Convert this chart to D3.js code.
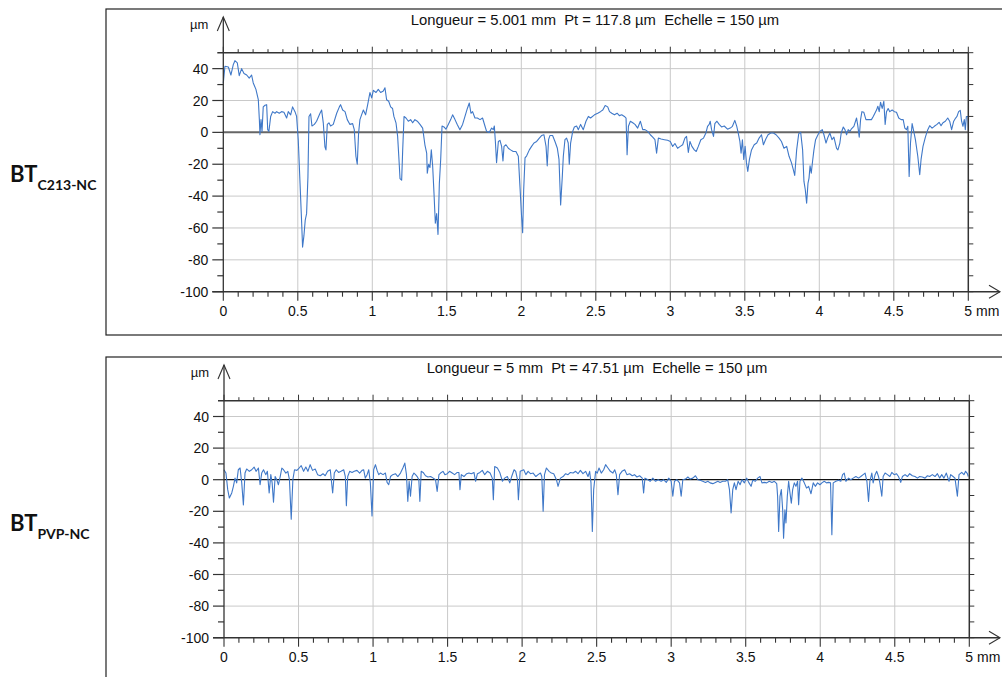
<!DOCTYPE html>
<html>
<head>
<meta charset="utf-8">
<script src="https://cdn.jsdelivr.net/npm/d3@7"></script>
<style>
  html, body { margin: 0; padding: 0; background: #fff; }
  svg { display: block; }
</style>
</head>
<body>
<svg id="chart" width="1002" height="677"></svg>
<script>
// ---------------- DATA ----------------
const xTicks = [0, 0.5, 1, 1.5, 2, 2.5, 3, 3.5, 4, 4.5, 5];
const xTickLabels = ["0", "0.5", "1", "1.5", "2", "2.5", "3", "3.5", "4", "4.5", "5 mm"];
const yTicks = [40, 20, 0, -20, -40, -60, -80, -100];
const yTickLabels = ["40", "20", "0", "-20", "-40", "-60", "-80", "-100"];

const titleTop = "Longueur = 5.001 mm  Pt = 117.8 µm  Echelle = 150 µm";
const titleBottom = "Longueur = 5 mm  Pt = 47.51 µm  Echelle = 150 µm";

// BT C213-NC profile (mm, µm)
const c213X = [0.000,0.011,0.034,0.051,0.067,0.078,0.094,0.107,0.123,0.139,0.157,0.174,0.190,0.201,0.219,0.235,0.242,0.246,0.253,0.260,0.268,0.280,0.291,0.298,0.306,0.318,0.331,0.347,0.358,0.376,0.391,0.407,0.425,0.436,0.452,0.465,0.481,0.492,0.503,0.515,0.526,0.532,0.541,0.550,0.559,0.568,0.575,0.586,0.595,0.611,0.626,0.649,0.660,0.671,0.682,0.689,0.698,0.709,0.720,0.738,0.761,0.779,0.787,0.801,0.817,0.832,0.850,0.868,0.879,0.890,0.899,0.908,0.917,0.928,0.940,0.955,0.969,0.984,0.996,1.007,1.025,1.040,1.056,1.074,1.085,1.096,1.110,1.123,1.136,1.145,1.159,1.170,1.179,1.186,1.197,1.204,1.213,1.226,1.242,1.257,1.271,1.286,1.302,1.320,1.338,1.353,1.365,1.369,1.378,1.387,1.396,1.405,1.414,1.423,1.432,1.441,1.450,1.459,1.468,1.481,1.494,1.510,1.526,1.539,1.555,1.570,1.588,1.606,1.622,1.638,1.651,1.662,1.673,1.689,1.705,1.723,1.740,1.756,1.767,1.785,1.801,1.812,1.819,1.826,1.834,1.846,1.857,1.868,1.877,1.884,1.897,1.913,1.928,1.946,1.964,1.980,1.991,2.002,2.009,2.016,2.025,2.036,2.054,2.069,2.085,2.103,2.121,2.136,2.152,2.166,2.174,2.183,2.192,2.210,2.226,2.242,2.253,2.264,2.275,2.282,2.293,2.304,2.315,2.322,2.331,2.345,2.356,2.371,2.383,2.398,2.416,2.434,2.450,2.465,2.491,2.513,2.531,2.547,2.563,2.580,2.592,2.607,2.625,2.643,2.658,2.674,2.692,2.703,2.710,2.719,2.732,2.748,2.763,2.781,2.799,2.815,2.830,2.848,2.866,2.882,2.897,2.908,2.920,2.938,2.960,2.982,3.000,3.016,3.031,3.049,3.067,3.083,3.098,3.109,3.121,3.132,3.145,3.161,3.174,3.188,3.205,3.223,3.239,3.250,3.261,3.268,3.277,3.290,3.299,3.313,3.328,3.344,3.362,3.384,3.402,3.417,3.433,3.446,3.455,3.467,3.475,3.484,3.493,3.502,3.511,3.520,3.531,3.545,3.563,3.580,3.596,3.612,3.625,3.641,3.656,3.674,3.692,3.710,3.730,3.746,3.763,3.781,3.797,3.813,3.826,3.835,3.848,3.862,3.875,3.888,3.897,3.906,3.915,3.924,3.931,3.938,3.946,3.955,3.964,3.975,3.991,4.004,4.020,4.031,4.045,4.058,4.071,4.085,4.098,4.116,4.125,4.138,4.147,4.161,4.172,4.183,4.194,4.205,4.214,4.232,4.250,4.259,4.268,4.277,4.286,4.299,4.313,4.333,4.350,4.362,4.373,4.384,4.393,4.402,4.411,4.422,4.433,4.442,4.451,4.462,4.473,4.489,4.504,4.518,4.533,4.549,4.563,4.574,4.585,4.594,4.603,4.612,4.623,4.634,4.645,4.661,4.674,4.683,4.696,4.712,4.728,4.741,4.757,4.772,4.790,4.804,4.817,4.830,4.846,4.862,4.875,4.888,4.902,4.915,4.924,4.935,4.946,4.955,4.964,4.973,4.980,4.987,4.998,5.000];
const c213Y = [31,41.5,41,36,42.5,45,43.6,35.6,40,37,36,34,36,31,27,20.5,8,-1.5,8,0.6,16,17,17.4,1.7,0.6,10,13,12,13,12,13,12.6,9,13,11,16,13,10,-4.6,-32,-57,-72,-65,-55,-51,-28,10,11.7,4,5,7,12,14,6,-9,-11,5,6,4,5,12,16,17.4,14,13,8,5,5.5,1.7,-15,-20,-0.4,8,11,14,11,17.4,25,21.6,26.4,25,27,25,26,28,20.5,19.5,16,15,10,6,-2.5,-17,-29,-30,-11,10,9,7,8,6,8,7,5,2.7,-7.8,-13,-25.6,-20,-22,-11,-21,-38,-57,-51,-64,-32,-17,4,3.4,2,5,8,11,8,5,1.7,5,10,15,18.4,12,13,9,9,8,9,4,0.6,0,2.7,1.7,4,-5.7,-19,-5.7,-5,-8.8,-18,-8.8,-7.8,-10,-11,-12,-12,-15,-34,-53,-63,-36,-16,-14.7,-11,-8.8,-6.7,-5.7,-3.6,-2,-1.5,-8.8,-21,-4.6,-2,-2,-5.7,-10,-17,-45.5,-28,-15,-4.6,-3.6,-6.7,-20,-6.7,0.6,3.4,4,1.7,5,1.7,7,10,9,11,12,13,14,16.8,16,13,12,11,12,10.5,11,10,9,-14,3.8,7,6,5,2.7,7,1.7,1.7,0.6,-1.5,-3,-4.6,-13,-3.6,-4.2,-4.6,-5,-5.7,-8.8,-7,-10,-8.8,-7.8,-3.6,-2.5,-12.6,-5.7,-8.8,-11,-12,-8.8,-4.6,-3.6,-0.4,3.8,5,7,1.7,-2.5,5.5,7,5,3.4,4,2,2.7,3.8,7.5,3.8,0,-5.7,-13,-4.6,-17,-8.8,-19,-24.5,-17,-11,-7.8,-6.7,-3.6,-1.5,-7.8,-4.2,-1.5,-0.4,-0.4,-1.5,-3.6,-5.7,-10,-8.8,-15,-19,-23.5,-27,-11,-0.8,0,-11,-30.8,-36,-44.4,-32,-28.7,-21,-25.6,-18,-11,-4.6,-1.5,0.6,1.7,-1.5,-6.7,-3,-0.4,-4.6,-3,-10,-11,-6.7,-0.4,3.4,1.7,-1.5,1.7,0.6,2,3.8,9,3.8,-3,8,13,12.6,8,8,8,10,12,14,16.4,13,18.9,15,19.5,5,13,15,13,14,13,12.6,9,8,8,2.7,1.7,3.8,-27.7,-6.7,5.5,0.6,-4.6,-15,-26.6,-17,-8.8,-3,1.7,4.2,2.7,3.8,5,6.3,4.2,6,7,9,7,1.7,7,9,10,13,13.8,7,3.8,8,1.7,10,10,1];

// BT PVP-NC profile (mm, µm)
const pvpX = [0.000,0.013,0.025,0.036,0.052,0.063,0.074,0.085,0.096,0.108,0.119,0.130,0.141,0.152,0.170,0.186,0.202,0.215,0.231,0.242,0.253,0.265,0.280,0.291,0.303,0.314,0.323,0.332,0.343,0.354,0.365,0.377,0.388,0.399,0.415,0.428,0.439,0.451,0.462,0.473,0.489,0.504,0.518,0.534,0.549,0.563,0.578,0.594,0.612,0.628,0.646,0.664,0.679,0.695,0.713,0.729,0.740,0.753,0.769,0.785,0.803,0.814,0.821,0.830,0.843,0.859,0.874,0.892,0.910,0.926,0.937,0.948,0.960,0.971,0.982,0.993,1.004,1.016,1.027,1.038,1.049,1.067,1.083,1.094,1.105,1.117,1.132,1.150,1.166,1.184,1.200,1.213,1.224,1.233,1.242,1.251,1.262,1.274,1.285,1.296,1.307,1.314,1.323,1.336,1.352,1.368,1.386,1.404,1.419,1.430,1.442,1.453,1.469,1.482,1.498,1.513,1.531,1.547,1.565,1.576,1.583,1.592,1.610,1.628,1.643,1.659,1.677,1.688,1.700,1.717,1.733,1.749,1.767,1.785,1.800,1.807,1.816,1.834,1.850,1.868,1.883,1.901,1.917,1.930,1.946,1.957,1.969,1.975,1.987,2.011,2.025,2.040,2.056,2.074,2.092,2.107,2.123,2.132,2.141,2.150,2.163,2.181,2.196,2.212,2.230,2.241,2.257,2.275,2.292,2.308,2.324,2.342,2.359,2.375,2.391,2.408,2.426,2.442,2.453,2.462,2.471,2.480,2.493,2.504,2.516,2.531,2.547,2.560,2.576,2.592,2.609,2.621,2.632,2.643,2.654,2.670,2.688,2.703,2.721,2.739,2.754,2.770,2.788,2.806,2.815,2.824,2.844,2.859,2.877,2.895,2.913,2.933,2.949,2.967,2.984,3.000,3.011,3.022,3.038,3.056,3.067,3.078,3.096,3.112,3.127,3.145,3.163,3.179,3.194,3.212,3.230,3.246,3.261,3.279,3.297,3.313,3.328,3.346,3.364,3.379,3.391,3.402,3.413,3.424,3.435,3.449,3.462,3.475,3.491,3.507,3.520,3.536,3.547,3.565,3.580,3.596,3.609,3.625,3.641,3.658,3.676,3.692,3.708,3.714,3.721,3.730,3.739,3.748,3.754,3.763,3.770,3.779,3.788,3.797,3.806,3.815,3.826,3.837,3.848,3.855,3.864,3.877,3.893,3.908,3.922,3.938,3.953,3.967,3.982,3.998,4.011,4.027,4.042,4.056,4.069,4.078,4.087,4.105,4.123,4.138,4.150,4.161,4.172,4.190,4.205,4.221,4.239,4.257,4.272,4.288,4.301,4.313,4.324,4.333,4.346,4.355,4.368,4.379,4.391,4.400,4.413,4.422,4.435,4.451,4.467,4.480,4.496,4.511,4.525,4.540,4.551,4.569,4.585,4.600,4.618,4.636,4.652,4.667,4.685,4.703,4.719,4.734,4.752,4.770,4.786,4.801,4.815,4.830,4.846,4.864,4.875,4.891,4.904,4.920,4.931,4.949,4.964,4.975,4.987,4.993];
const pvpY = [6.3,4.2,-6.3,-11.6,-8.4,-4.2,1,-2,6.3,7.4,-2,-16,4.2,6.8,5.3,6.3,8,5.3,7.4,-3.2,4.2,6.3,3.2,5.3,-8.4,3.2,-2,-14.3,2,0,-3.2,2,7.4,6.3,4.2,5.3,0,-25,0,6.3,5.9,7.4,8.9,5.3,8,5.3,9.5,5.9,6.8,3.2,2.5,3.8,2.5,5.3,6.3,-8.4,4.2,6.3,4.6,5.3,6.3,2,-16.5,2,5.3,4.6,5.3,5.9,4.2,5.9,6.3,1,3.2,6.3,-2,-23,6.3,9.5,5.9,3.2,4.2,3.2,4.2,-1.7,-3.2,2,3.2,3.8,2,4.2,7.4,10.5,3.2,-13.7,-1,-10.5,2,4.2,3.2,2,0,-13.7,5.3,4.6,2.5,1.7,2,1,0,-7.4,3.2,4.2,5.3,3.2,3.8,5.3,4.2,3.2,4.6,4.6,-6.3,3.2,2,3.8,4.2,3.8,4.6,-1,3.8,4.6,5.9,3.2,5.3,4.2,1,-12.7,8.4,7.4,4.6,-1,1,2,-2,2,6.3,5.3,0,-12.7,5.3,6.3,3.2,5.3,3.8,4.2,2,3.2,4.2,2,-20,3.2,7.4,5.3,4.2,3.8,0,-4.2,1,2,3.8,3.2,4.6,4.2,5.3,3.8,5.9,3.8,5.3,2,5.3,-2,-32.7,-6.3,5.3,4.2,7.4,4.2,6.3,9.5,7.4,5.3,4.2,6.3,3.2,-9.5,3.2,5.3,6.3,3.2,3.8,2.5,3.2,1.7,2.5,1,-8.4,1,0,-1,1,-1,0,-1,0,-1.7,1,-1,-10.5,-1,0,-2,-10.5,0,0.4,1.7,0.4,1,2.5,0,-0.4,-1,-1.7,-1,-2,-2.5,-1.7,-1,-1.7,-1,-1,0,-6.3,-21,-6.3,-2,-6.3,-1,-3.2,0,-2,1,-1.7,-4.2,-0.4,-1,1,2,-2,-1.7,-2,-1,-1.7,-1,-2.5,-10.5,-32.7,-10.5,-6.3,-19,-37,-19,-27.4,-10.5,-1,-8.4,-14.8,-6.3,-2,-4.2,-1,-15.8,-1,1,-2,-5.3,-4.2,-8.9,-2,-4.2,-2,-3.2,-2,-1,-2,-1.7,-2,-34.8,-2,-1,-0.4,-1,3.2,4.2,-1,1,0,1,2,1,2,3.2,4.2,-1,-13.7,-1,4.2,-2,3.2,5.3,2,-2,-10.5,2,4.2,3.2,2,4.6,3.2,3.8,2,-1.7,2,3.2,2,3.8,2.5,2,1,2,1.7,1,2.5,2,3.2,2,3.8,1,3.2,1,4.2,-1,3.2,2,1,-10.5,3.2,4.6,3.2,5.3,3.8,2];

// ---------------- DRAWING ----------------
const svg = d3.select("#chart");
const FONT = "'Liberation Sans', Arial, Helvetica, sans-serif";
const DARK = "#333";

function drawPanel(cfg) {
  const g = svg.append("g");
  const x = d3.scaleLinear().domain([0, 5]).range([cfg.x0, cfg.x1]);
  const y = d3.scaleLinear().domain([-100, 50]).range([cfg.y1, cfg.y0]);

  // outer frame
  g.append("rect")
    .attr("x", cfg.fx).attr("y", cfg.fy)
    .attr("width", 1010 - cfg.fx).attr("height", cfg.fb - cfg.fy)
    .attr("fill", "none").attr("stroke", "#222").attr("stroke-width", 1.2);

  // grid
  g.append("g").selectAll("line").data(xTicks.filter(t => t > 0 && t < 5)).join("line")
    .attr("x1", d => x(d)).attr("x2", d => x(d))
    .attr("y1", cfg.y0).attr("y2", cfg.y1)
    .attr("stroke", "#c9c9c9").attr("stroke-width", 1);
  g.append("g").selectAll("line").data(yTicks.filter(t => t !== 0 && t > -100)).join("line")
    .attr("x1", cfg.x0).attr("x2", cfg.x1)
    .attr("y1", d => y(d)).attr("y2", d => y(d))
    .attr("stroke", "#c9c9c9").attr("stroke-width", 1);

  // zero line
  g.append("line")
    .attr("x1", cfg.x0).attr("x2", cfg.x1)
    .attr("y1", y(0)).attr("y2", y(0))
    .attr("stroke", cfg.zeroColor).attr("stroke-width", cfg.zeroWidth);

  // profile line
  const pts = d3.zip(cfg.xs, cfg.ys);
  g.append("path")
    .datum(pts)
    .attr("fill", "none")
    .attr("stroke", "#3f78c8")
    .attr("stroke-width", 1.1)
    .attr("stroke-linejoin", "round")
    .attr("d", d3.line().x(d => x(d[0])).y(d => y(d[1])));

  // minor tick values
  const minorX = d3.range(0, 51).map(i => i / 10);
  const minorY = d3.range(-100, 51, 10);

  // top border with upward ticks
  g.append("line")
    .attr("x1", cfg.x0 - 6).attr("x2", cfg.x1)
    .attr("y1", cfg.y0).attr("y2", cfg.y0)
    .attr("stroke", DARK).attr("stroke-width", 1.5);
  g.append("g").selectAll("line").data(minorX).join("line")
    .attr("x1", d => x(d)).attr("x2", d => x(d))
    .attr("y1", cfg.y0).attr("y2", (d, i) => cfg.y0 - (i % 5 === 0 ? 6 : 3.5))
    .attr("stroke", DARK).attr("stroke-width", 1);

  // right border with rightward ticks
  g.append("line")
    .attr("x1", cfg.x1).attr("x2", cfg.x1)
    .attr("y1", cfg.y0).attr("y2", cfg.y1)
    .attr("stroke", DARK).attr("stroke-width", 1.5);
  g.append("g").selectAll("line").data(minorY).join("line")
    .attr("x1", cfg.x1).attr("x2", cfg.x1 + 5)
    .attr("y1", d => y(d)).attr("y2", d => y(d))
    .attr("stroke", DARK).attr("stroke-width", 1);

  // left axis with arrow
  g.append("line")
    .attr("x1", cfg.x0).attr("x2", cfg.x0)
    .attr("y1", cfg.y1).attr("y2", cfg.arrowTop)
    .attr("stroke", DARK).attr("stroke-width", 1.3);
  g.append("path")
    .attr("d", `M${cfg.x0 - 6},${cfg.arrowTop + 14} L${cfg.x0},${cfg.arrowTop} L${cfg.x0 + 6},${cfg.arrowTop + 14}`)
    .attr("fill", "none").attr("stroke", DARK).attr("stroke-width", 1.1);
  g.append("g").selectAll("line").data(minorY.filter(v => v <= 40)).join("line")
    .attr("x1", d => cfg.x0 - (d % 20 === 0 ? 11 : 6)).attr("x2", cfg.x0)
    .attr("y1", d => y(d)).attr("y2", d => y(d))
    .attr("stroke", DARK).attr("stroke-width", 1.2);
  g.append("g").selectAll("text").data(yTicks).join("text")
    .attr("x", cfg.x0 - 15).attr("y", d => y(d))
    .attr("dy", "0.36em")
    .attr("text-anchor", "end")
    .attr("font-family", FONT).attr("font-size", 14).attr("fill", "#111")
    .text((d, i) => yTickLabels[i]);
  g.append("text")
    .attr("x", cfg.x0 - 15).attr("y", cfg.arrowTop + 12)
    .attr("text-anchor", "end")
    .attr("font-family", FONT).attr("font-size", 13).attr("fill", "#111")
    .text("µm");

  // bottom axis with arrow
  g.append("line")
    .attr("x1", cfg.x0 - 11).attr("x2", 1000)
    .attr("y1", cfg.y1).attr("y2", cfg.y1)
    .attr("stroke", DARK).attr("stroke-width", 1.4);
  g.append("path")
    .attr("d", `M989,${cfg.y1 - 6.5} L1000,${cfg.y1} L989,${cfg.y1 + 6.5}`)
    .attr("fill", "none").attr("stroke", DARK).attr("stroke-width", 1.1);
  g.append("g").selectAll("line").data(minorX).join("line")
    .attr("x1", d => x(d)).attr("x2", d => x(d))
    .attr("y1", cfg.y1).attr("y2", (d, i) => cfg.y1 + (i % 5 === 0 ? 9 : 5))
    .attr("stroke", DARK).attr("stroke-width", 1.1);
  g.append("g").selectAll("text").data(xTicks).join("text")
    .attr("x", d => x(d)).attr("y", cfg.y1 + 24)
    .attr("text-anchor", (d, i) => i === xTicks.length - 1 ? "start" : "middle")
    .attr("dx", (d, i) => i === xTicks.length - 1 ? -4 : 0)
    .attr("font-family", FONT).attr("font-size", 14).attr("fill", "#111")
    .text((d, i) => xTickLabels[i]);

  // title
  g.append("text")
    .attr("x", cfg.titleX).attr("y", cfg.titleY)
    .attr("text-anchor", "middle")
    .attr("font-family", FONT).attr("font-size", 14.8).attr("fill", "#111")
    .attr("xml:space", "preserve")
    .style("white-space", "pre")
    .text(cfg.title);

  // side label
  const lab = svg.append("text")
    .attr("x", 10).attr("y", cfg.labelY)
    .attr("font-family", "Lato, 'Open Sans', sans-serif")
    .attr("font-weight", "bold").attr("fill", "#111");
  lab.append("tspan").attr("font-size", 22).text("BT");
  lab.append("tspan").attr("font-size", 14).attr("dy", 8).text(cfg.sub);
}

drawPanel({
  fx: 106, fy: 9, fb: 335,
  x0: 223.3, x1: 968.3, y0: 52.7, y1: 291.7,
  arrowTop: 17, titleX: 595, titleY: 25,
  title: titleTop, xs: c213X, ys: c213Y,
  zeroColor: "#666", zeroWidth: 2,
  labelY: 182, sub: "C213-NC"
});

drawPanel({
  fx: 106, fy: 357, fb: 700,
  x0: 224, x1: 969.3, y0: 400.7, y1: 637.7,
  arrowTop: 365, titleX: 597, titleY: 373,
  title: titleBottom, xs: pvpX, ys: pvpY,
  zeroColor: "#111", zeroWidth: 1.3,
  labelY: 531, sub: "PVP-NC"
});
</script>
</body>
</html>
